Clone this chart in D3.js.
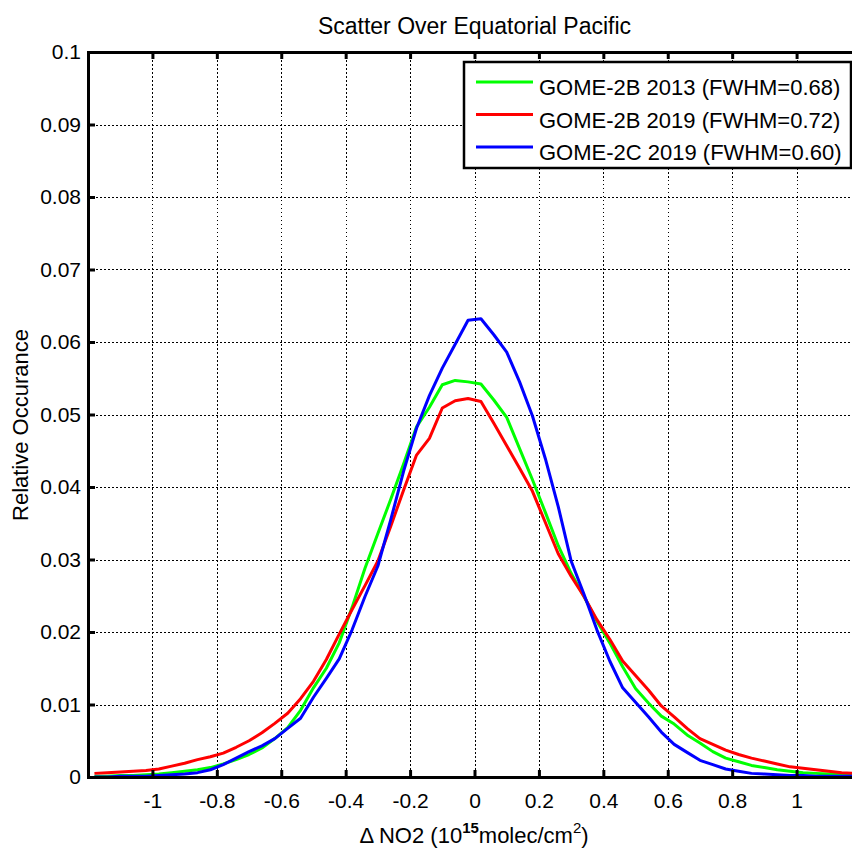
<!DOCTYPE html>
<meta charset="utf-8">
<style type="text/css">

body {
  margin: 0;
  background: #fff;
}

svg {
  font-family: "Liberation Sans", Arial, Helvetica, sans-serif;
}

.grid line {
  stroke: #000;
  stroke-width: 1px;
  stroke-dasharray: 1.5, 2.5;
  shape-rendering: crispEdges;
}

.axis path,
.axis line {
  stroke: #000;
  stroke-width: 3px;
}

.axis text {
  font-size: 21px;
  fill: #000;
}

.curve {
  fill: none;
  stroke-width: 3px;
  stroke-linejoin: round;
}

</style>
<body>

<div id="chart"></div>

<script src="https://cdn.jsdelivr.net/npm/d3@7"></script>
<script>
var width = 852,
    height = 848;

// bin centres of the histogram
var bins = [-1.18, -1.14, -1.10, -1.06, -1.02, -0.98, -0.94, -0.90, -0.86, -0.82,
            -0.78, -0.74, -0.70, -0.66, -0.62, -0.58, -0.54, -0.50, -0.46, -0.42,
            -0.38, -0.34, -0.30, -0.26, -0.22, -0.18, -0.14, -0.10, -0.06, -0.02,
             0.02,  0.06,  0.10,  0.14,  0.18,  0.22,  0.26,  0.30,  0.34,  0.38,
             0.42,  0.46,  0.50,  0.54,  0.58,  0.62,  0.66,  0.70,  0.74,  0.78,
             0.82,  0.86,  0.90,  0.94,  0.98,  1.02,  1.06,  1.10,  1.14,  1.18];

var gome2b2013 = [0.0001, 0.0001, 0.0002, 0.0002, 0.0003, 0.0004, 0.0006, 0.0008, 0.0010, 0.0013,
                  0.0018, 0.0024, 0.0031, 0.0040, 0.0053, 0.0068, 0.0092, 0.0123, 0.0150, 0.0185,
                  0.0234, 0.0288, 0.0336, 0.0383, 0.0432, 0.0483, 0.0510, 0.0541, 0.0547, 0.0545,
                  0.0542, 0.0520, 0.0496, 0.0453, 0.0410, 0.0365, 0.0319, 0.0281, 0.0249, 0.0215,
                  0.0185, 0.0152, 0.0122, 0.0102, 0.0084, 0.0073, 0.0058, 0.0047, 0.0035, 0.0026,
                  0.0021, 0.0016, 0.0013, 0.0010, 0.0008, 0.0006, 0.0005, 0.0004, 0.0003, 0.0003];

var gome2b2019 = [0.0005, 0.0006, 0.0007, 0.0008, 0.0009, 0.0011, 0.0015, 0.0019, 0.0024, 0.0028,
                  0.0033, 0.0041, 0.0050, 0.0061, 0.0074, 0.0088, 0.0108, 0.0132, 0.0162, 0.0197,
                  0.0231, 0.0264, 0.0298, 0.0346, 0.0396, 0.0444, 0.0467, 0.0509, 0.0519, 0.0522,
                  0.0518, 0.0488, 0.0457, 0.0426, 0.0394, 0.0351, 0.0308, 0.0277, 0.0249, 0.0217,
                  0.0190, 0.0160, 0.0140, 0.0120, 0.0098, 0.0083, 0.0067, 0.0053, 0.0045, 0.0037,
                  0.0031, 0.0026, 0.0022, 0.0018, 0.0014, 0.0012, 0.0010, 0.0008, 0.0006, 0.0005];

var gome2c2019 = [0.0000, 0.0000, 0.0001, 0.0001, 0.0001, 0.0002, 0.0003, 0.0004, 0.0006, 0.0010,
                  0.0017, 0.0026, 0.0035, 0.0043, 0.0053, 0.0067, 0.0081, 0.0110, 0.0136, 0.0163,
                  0.0203, 0.0249, 0.0291, 0.0355, 0.0422, 0.0481, 0.0526, 0.0564, 0.0597, 0.0630,
                  0.0632, 0.0610, 0.0586, 0.0545, 0.0498, 0.0439, 0.0373, 0.0298, 0.0252, 0.0203,
                  0.0160, 0.0123, 0.0103, 0.0083, 0.0062, 0.0045, 0.0034, 0.0023, 0.0017, 0.0011,
                  0.0008, 0.0005, 0.0004, 0.0003, 0.0002, 0.0002, 0.0001, 0.0001, 0.0001, 0.0001];

var seriesNames = ['GOME-2B 2013 (FWHM=0.68)', 'GOME-2B 2019 (FWHM=0.72)', 'GOME-2C 2019 (FWHM=0.60)'];
var seriesColors = ['#00ff00', '#ff0000', '#0000ff'];
var seriesValues = [gome2b2013, gome2b2019, gome2c2019];

var xTicks = [-1, -0.8, -0.6, -0.4, -0.2, 0, 0.2, 0.4, 0.6, 0.8, 1];
var yTicks = [0, 0.01, 0.02, 0.03, 0.04, 0.05, 0.06, 0.07, 0.08, 0.09, 0.1];

var margin = {left: 88, top: 52, right: 861, bottom: 777};

var x = d3.scaleLinear().domain([-1.2, 1.2]).range([margin.left, margin.right]);
var y = d3.scaleLinear().domain([0, 0.1]).range([margin.bottom, margin.top]);

var svg = d3.select('#chart').append('svg')
    .attr('width', width)
    .attr('height', height);

// dotted grid
svg.append('g')
    .attr('class', 'grid')
    .selectAll('line.gx')
    .data(xTicks)
  .enter()
    .append('line')
    .attr('x1', function(d) { return Math.round(x(d)) + 0.5; })
    .attr('x2', function(d) { return Math.round(x(d)) + 0.5; })
    .attr('y1', margin.top)
    .attr('y2', margin.bottom);

svg.select('.grid')
    .selectAll('line.gy')
    .data(yTicks.slice(1, -1))
  .enter()
    .append('line')
    .attr('class', 'gy')
    .attr('x1', margin.left)
    .attr('x2', margin.right)
    .attr('y1', function(d) { return Math.round(y(d)) + 0.5; })
    .attr('y2', function(d) { return Math.round(y(d)) + 0.5; });

// curves
var line = d3.line()
    .x(function(d) { return x(d[0]); })
    .y(function(d) { return y(d[1]); });

seriesValues.forEach(function(vals, i) {
  svg.append('path')
      .attr('class', 'curve')
      .attr('stroke', seriesColors[i])
      .attr('d', line(bins.map(function(b, j) { return [b, vals[j]]; })));
});

// axes
function fmt(d) {
  return String(+d.toFixed(2));
}

svg.append('g')
    .attr('class', 'axis')
    .attr('transform', 'translate(0,' + margin.bottom + ')')
    .call(d3.axisBottom(x).tickValues(xTicks).tickFormat(fmt).tickSizeInner(-7).tickSizeOuter(0).tickPadding(16));

svg.append('g')
    .attr('class', 'axis')
    .attr('transform', 'translate(0,' + margin.top + ')')
    .call(d3.axisTop(x).tickValues(xTicks).tickFormat('').tickSizeInner(-7).tickSizeOuter(0));

svg.append('g')
    .attr('class', 'axis')
    .attr('transform', 'translate(' + margin.left + ',0)')
    .call(d3.axisLeft(y).tickValues(yTicks).tickFormat(fmt).tickSizeInner(-7).tickSizeOuter(0).tickPadding(7));

svg.selectAll('.axis path').attr('stroke-linecap', 'square');

// title and axis labels
svg.append('text')
    .attr('x', (margin.left + margin.right) / 2)
    .attr('y', 34)
    .attr('text-anchor', 'middle')
    .style('font-size', '23px')
    .text('Scatter Over Equatorial Pacific');

svg.append('text')
    .attr('transform', 'translate(28,425) rotate(-90)')
    .attr('text-anchor', 'middle')
    .style('font-size', '22px')
    .text('Relative Occurance');

var xlab = svg.append('text')
    .attr('x', 474)
    .attr('y', 843)
    .attr('text-anchor', 'middle')
    .style('font-size', '22px');
xlab.append('tspan').text('\u0394 NO2 (10');
xlab.append('tspan').attr('dy', -10).style('font-size', '15px').style('font-weight', 'bold').text('15');
xlab.append('tspan').attr('dy', 10).text('molec/cm');
xlab.append('tspan').attr('dy', -10).style('font-size', '15px').text('2');
xlab.append('tspan').attr('dy', 10).text(')');

// legend
var legend = svg.append('g');

legend.append('rect')
    .attr('x', 464)
    .attr('y', 62)
    .attr('width', 387)
    .attr('height', 106)
    .attr('fill', '#fff')
    .attr('stroke', '#000')
    .attr('stroke-width', 2.5);

seriesNames.forEach(function(name, i) {
  var ly = 82 + i * 32.5;
  legend.append('line')
      .attr('x1', 476)
      .attr('x2', 533)
      .attr('y1', ly)
      .attr('y2', ly)
      .attr('stroke', seriesColors[i])
      .attr('stroke-width', 3);
  legend.append('text')
      .attr('x', 539)
      .attr('y', ly + 13)
      .style('font-size', '22px')
      .text(name);
});
</script>
